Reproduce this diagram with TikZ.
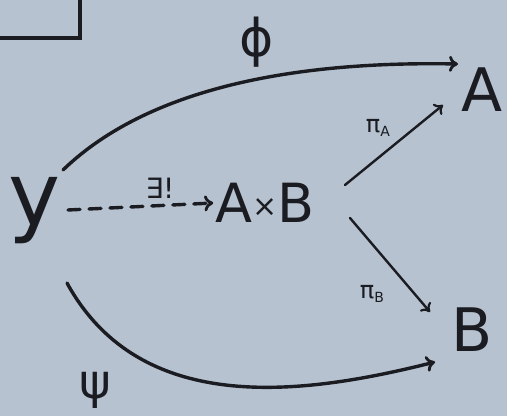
\documentclass[tikz,border=0pt]{standalone}
\usepackage{fontspec}
\setmainfont{DejaVu Sans}
\usetikzlibrary{arrows.meta}
\definecolor{paper}{HTML}{B7C2D0}
\definecolor{ink}{HTML}{1A1C22}
\newcommand{\fs}[1]{\fontsize{#1}{#1}\selectfont}
\begin{document}
\begin{tikzpicture}[x=1pt,y=1pt,
  obj/.style={text=ink,inner sep=2pt,font=\fs{60}},
  lab/.style={text=ink,inner sep=1pt},
  arr/.style={draw=ink,line width=3.4pt,line cap=round,-{To[length=9pt,width=16pt,line width=2.8pt]}},
  thinarr/.style={draw=ink,line width=2.4pt,line cap=round,-{To[length=8pt,width=14pt,line width=2.2pt]}}]
\fill[paper] (0,0) rectangle (507,416);
\useasboundingbox (0,0) rectangle (507,416);
% corner box fragment
\coordinate (c1) at (0,378);
\coordinate (c2) at (80,378);
\coordinate (c3) at (80,416);
\draw[ink,line width=3.2pt] (c1) -- (c2) -- (c3);
% objects
\node[obj,font=\fs{88}] (Y) at (35,205) {y};
\node[obj,font=\fs{54}] (AB) at (265,213) {A{\fs{30}\raisebox{6pt}{×}}B};
\node[obj] (A) at (482,326) {A};
\node[obj] (B) at (472,86) {B};
% arrows
\draw[arr,dashed,dash pattern=on 12pt off 9pt] (68,206) -- (AB.west);
\node[lab,font=\fs{28}] (ex) at (160,228) {∃!};
\draw[arr] (63,246) .. controls (150,330) and (300,355) .. (458,352);
\node[lab,font=\fs{52}] (phi) at (257,374) {ϕ};
\draw[arr] (67,133) .. controls (140,0) and (300,20) .. (435,54);
\node[lab,font=\fs{48}] (psi) at (95,26) {ψ};
\draw[thinarr] (345,231) -- (443,311);
\node[lab,font=\fs{24}] (pa) at (378,288) {π\raisebox{-4pt}{\fs{14}A}};
\draw[thinarr] (350,198) -- (430,104);
\node[lab,font=\fs{24}] (pb) at (372,122) {π\raisebox{-4pt}{\fs{14}B}};
\end{tikzpicture}
\end{document}
